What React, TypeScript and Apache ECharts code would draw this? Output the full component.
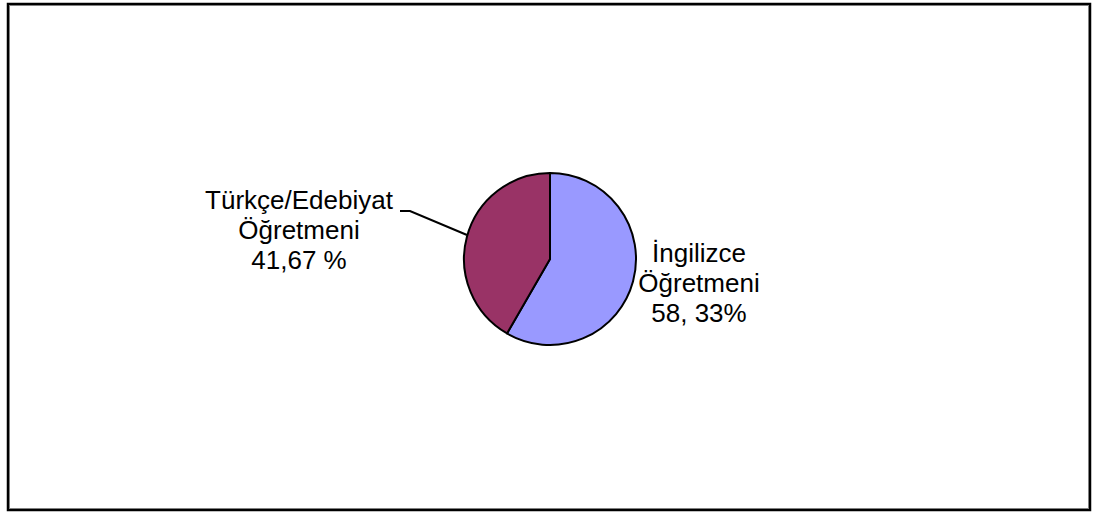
import React, { useEffect, useRef } from "react";
import * as echarts from "echarts";

const categories = ["İngilizce Öğretmeni", "Türkçe/Edebiyat Öğretmeni"];
const values = [58.33, 41.67];
const labelTexts = ["İngilizce\nÖğretmeni\n58, 33%", "Türkçe/Edebiyat\nÖğretmeni\n41,67 %"];
const colors = ["#9999FF", "#993366"];

export default function App() {
  const ref = useRef<HTMLDivElement>(null);
  useEffect(() => {
    if (!ref.current) return;
    const chart = echarts.init(ref.current, undefined, { renderer: "svg" });
    chart.setOption({
      animation: false,
      backgroundColor: "#ffffff",
      graphic: [
        { type: "rect", shape: { x: 8, y: 4, width: 1082, height: 506 }, style: { fill: "none", stroke: "#000", lineWidth: 2.5 }, silent: true },
        { type: "rect", shape: { x: 9.5, y: 5.5, width: 1079, height: 503 }, style: { fill: "none", stroke: "#808080", lineWidth: 1 }, silent: true },
      ],
      series: [
        {
          type: "pie",
          center: [550, 259],
          radius: 86,
          startAngle: 90,
          clockwise: true,
          data: categories.map((name, i) => ({
            name,
            value: values[i],
            itemStyle: { color: colors[i], borderColor: "#000", borderWidth: 2 },
            label: { formatter: labelTexts[i] },
          })),
          emphasis: { disabled: true },
          label: {
            show: true,
            color: "#000",
            fontFamily: "Liberation Sans, Arial, sans-serif",
            fontSize: 26,
            lineHeight: 30,
            align: "center",
          },
          labelLine: { show: true, lineStyle: { color: "#000", width: 2 } },
          labelLayout: (params: any) => {
            if (params.dataIndex === 0) {
              return { x: 699, y: 283, align: "center", verticalAlign: "middle", labelLinePoints: [[0, 0], [0, 0], [0, 0]] };
            }
            return {
              x: 299,
              y: 230,
              align: "center",
              verticalAlign: "middle",
              labelLinePoints: [[467, 235], [410, 211], [400, 211]],
            };
          },
        },
      ],
    });
    return () => chart.dispose();
  }, []);
  return <div ref={ref} style={{ position: "fixed", left: 0, top: 0, width: 1093, height: 514 }} />;
}
